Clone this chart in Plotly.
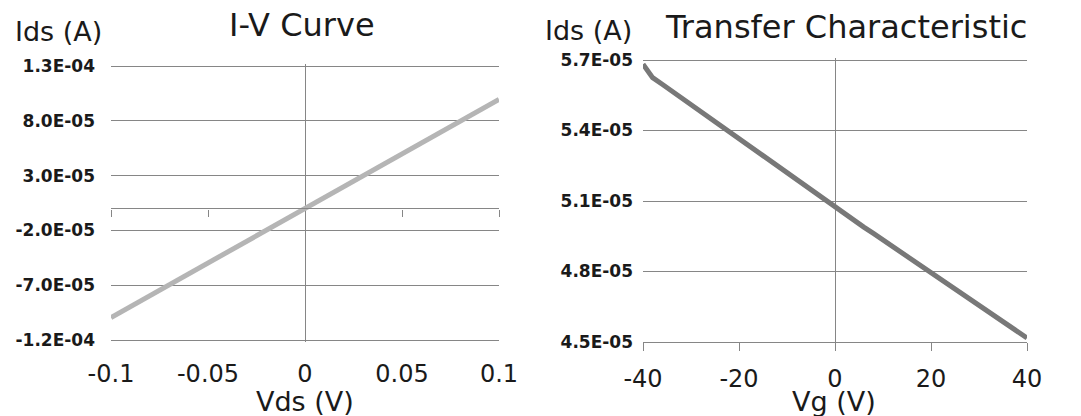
import plotly.graph_objects as go

# ---- I-V sweep (drain current vs drain-source voltage) ----
vds = [-0.10, -0.09, -0.08, -0.07, -0.06, -0.05, -0.04, -0.03, -0.02, -0.01,
       0.00, 0.01, 0.02, 0.03, 0.04, 0.05, 0.06, 0.07, 0.08, 0.09, 0.10]
ids_iv = [-9.95e-05, -8.96e-05, -7.97e-05, -6.98e-05, -5.98e-05, -4.99e-05,
          -3.99e-05, -2.99e-05, -1.99e-05, -9.9e-06, 0.0, 9.9e-06, 1.99e-05,
          2.99e-05, 3.99e-05, 4.99e-05, 5.98e-05, 6.98e-05, 7.97e-05, 8.96e-05,
          9.95e-05]

# ---- Transfer sweep (drain current vs gate voltage) ----
vg = [-40, -39, -38, -36, -34, -32, -30, -28, -26, -24, -22, -20, -18, -16,
      -14, -12, -10, -8, -6, -4, -2, 0, 2, 4, 6, 8, 10, 12, 14, 16, 18, 20,
      22, 24, 26, 28, 30, 32, 34, 36, 38, 40]
ids_tr = [5.682e-05, 5.650e-05, 5.625e-05, 5.597e-05, 5.568e-05, 5.539e-05,
          5.511e-05, 5.482e-05, 5.453e-05, 5.425e-05, 5.396e-05, 5.366e-05,
          5.337e-05, 5.307e-05, 5.278e-05, 5.249e-05, 5.220e-05, 5.190e-05,
          5.161e-05, 5.131e-05, 5.100e-05, 5.072e-05, 5.044e-05, 5.017e-05,
          4.989e-05, 4.962e-05, 4.934e-05, 4.907e-05, 4.879e-05, 4.852e-05,
          4.825e-05, 4.797e-05, 4.769e-05, 4.741e-05, 4.713e-05, 4.685e-05,
          4.657e-05, 4.629e-05, 4.601e-05, 4.573e-05, 4.545e-05, 4.517e-05]

# ---- axis ticks ----
iv_xticks = [-0.1, -0.05, 0, 0.05, 0.1]
iv_xlabels = ["-0.1", "-0.05", "0", "0.05", "0.1"]
iv_yticks = [-1.2e-04, -7.0e-05, -2.0e-05, 3.0e-05, 8.0e-05, 1.3e-04]
iv_ylabels = ["-1.2E-04", "-7.0E-05", "-2.0E-05", "3.0E-05", "8.0E-05", "1.3E-04"]
iv_xrange = [-0.1, 0.1]
iv_yrange = [-1.2e-04, 1.3e-04]

tr_xticks = [-40, -20, 0, 20, 40]
tr_xlabels = ["-40", "-20", "0", "20", "40"]
tr_yticks = [4.5e-05, 4.8e-05, 5.1e-05, 5.4e-05, 5.7e-05]
tr_ylabels = ["4.5E-05", "4.8E-05", "5.1E-05", "5.4E-05", "5.7E-05"]
tr_xrange = [-40, 40]
tr_yrange = [4.5e-05, 5.7e-05]

W, H = 1081, 416
FONT = "DejaVu Sans"
TEXT = "#1a1a1a"
GRID = "#868686"
PAD = 2  # px of headroom so the outermost gridlines are not clipped


def px_x(p):
    return p / W


def px_y(p):
    return 1 - p / H


def padded(rng, top_px, bot_px, span_px, pad_top=True, pad_bot=True):
    """Extend a value range by PAD pixels and return (range, paper domain)."""
    per_px = (rng[1] - rng[0]) / span_px
    lo = rng[0] - (PAD * per_px if pad_bot else 0)
    hi = rng[1] + (PAD * per_px if pad_top else 0)
    dom = [px_y(bot_px + (PAD if pad_bot else 0)),
           px_y(top_px - (PAD if pad_top else 0))]
    return [lo, hi], dom


iv_xdom = [px_x(111), px_x(499)]
iv_yrng, iv_ydom = padded(iv_yrange, 66, 340, 274)
tr_xdom = [px_x(643), px_x(1027)]
tr_yrng, tr_ydom = padded(tr_yrange, 60, 342, 282, pad_bot=False)

# paper position of the I-V zero-current line (where the tick marks sit)
zero_frac = (0 - iv_yrng[0]) / (iv_yrng[1] - iv_yrng[0])
iv_zero_pos = iv_ydom[0] + zero_frac * (iv_ydom[1] - iv_ydom[0])

fig = go.Figure()
fig.add_trace(go.Scatter(x=vds, y=ids_iv, mode="lines",
                         line=dict(color="#b5b5b5", width=5),
                         xaxis="x", yaxis="y", showlegend=False))
fig.add_trace(go.Scatter(x=vg, y=ids_tr, mode="lines",
                         line=dict(color="#787878", width=5),
                         xaxis="x2", yaxis="y2", showlegend=False))
# invisible carrier for the zero-line axis with tick marks
fig.add_trace(go.Scatter(x=iv_xrange, y=[0, 0], mode="lines",
                         line=dict(width=0), hoverinfo="skip",
                         xaxis="x3", yaxis="y", showlegend=False))

ytick_font = dict(family=FONT, size=17, color=TEXT, weight="bold")
xtick_font = dict(family=FONT, size=24, color=TEXT)

fig.update_layout(
    width=W, height=H, autosize=False,
    margin=dict(l=0, r=0, t=0, b=0, autoexpand=False),
    paper_bgcolor="white", plot_bgcolor="white",
    xaxis=dict(domain=iv_xdom, range=iv_xrange, anchor="y", automargin=False,
               tickmode="array", tickvals=iv_xticks, ticktext=iv_xlabels,
               tickfont=xtick_font, showgrid=False, showline=False,
               zeroline=True, zerolinecolor=GRID, zerolinewidth=1.2,
               ticks="", ticklabelstandoff=15),
    yaxis=dict(domain=iv_ydom, range=iv_yrng, anchor="x", automargin=False,
               tickmode="array", tickvals=iv_yticks, ticktext=iv_ylabels,
               tickfont=ytick_font, showgrid=True, gridcolor=GRID,
               gridwidth=1.2, zeroline=False, showline=False, ticks="",
               ticklabelstandoff=15),
    xaxis3=dict(overlaying="x", anchor="free", position=iv_zero_pos,
                range=iv_xrange, automargin=False, tickmode="array",
                tickvals=[-0.1, -0.05, 0.05, 0.1], showticklabels=False,
                ticks="outside", ticklen=7, tickwidth=1.2, tickcolor=GRID,
                showline=True, linecolor=GRID, linewidth=1.2,
                showgrid=False, zeroline=False, side="bottom"),
    xaxis2=dict(domain=tr_xdom, range=tr_xrange, anchor="y2", automargin=False,
                tickmode="array", tickvals=tr_xticks, ticktext=tr_xlabels,
                tickfont=xtick_font, showgrid=False, showline=True,
                linecolor=GRID, linewidth=1.2, ticks="outside", ticklen=8,
                tickwidth=1.2, tickcolor=GRID, zeroline=True,
                zerolinecolor=GRID, zerolinewidth=1.2, ticklabelstandoff=7),
    yaxis2=dict(domain=tr_ydom, range=tr_yrng, anchor="x2", automargin=False,
                tickmode="array", tickvals=tr_yticks, ticktext=tr_ylabels,
                tickfont=ytick_font, showgrid=True, gridcolor=GRID,
                gridwidth=1.2, zeroline=False, showline=False, ticks="",
                ticklabelstandoff=9),
)

ann = dict(xref="paper", yref="paper", showarrow=False,
           xanchor="center", yanchor="middle")
fig.add_annotation(text="I-V Curve", x=px_x(302), y=px_y(25),
                   font=dict(family=FONT, size=32, color=TEXT), **ann)
fig.add_annotation(text="Transfer Characteristic", x=px_x(846), y=px_y(27),
                   font=dict(family=FONT, size=32, color=TEXT), **ann)
fig.add_annotation(text="Ids (A)", x=px_x(58), y=px_y(32),
                   font=dict(family=FONT, size=27, color=TEXT), **ann)
fig.add_annotation(text="Ids (A)", x=px_x(588), y=px_y(31),
                   font=dict(family=FONT, size=27, color=TEXT), **ann)
fig.add_annotation(text="Vds (V)", x=px_x(305), y=px_y(401),
                   font=dict(family=FONT, size=27, color=TEXT), **ann)
fig.add_annotation(text="Vg (V)", x=px_x(834), y=px_y(401),
                   font=dict(family=FONT, size=27, color=TEXT), **ann)

fig.write_html("out.html")
